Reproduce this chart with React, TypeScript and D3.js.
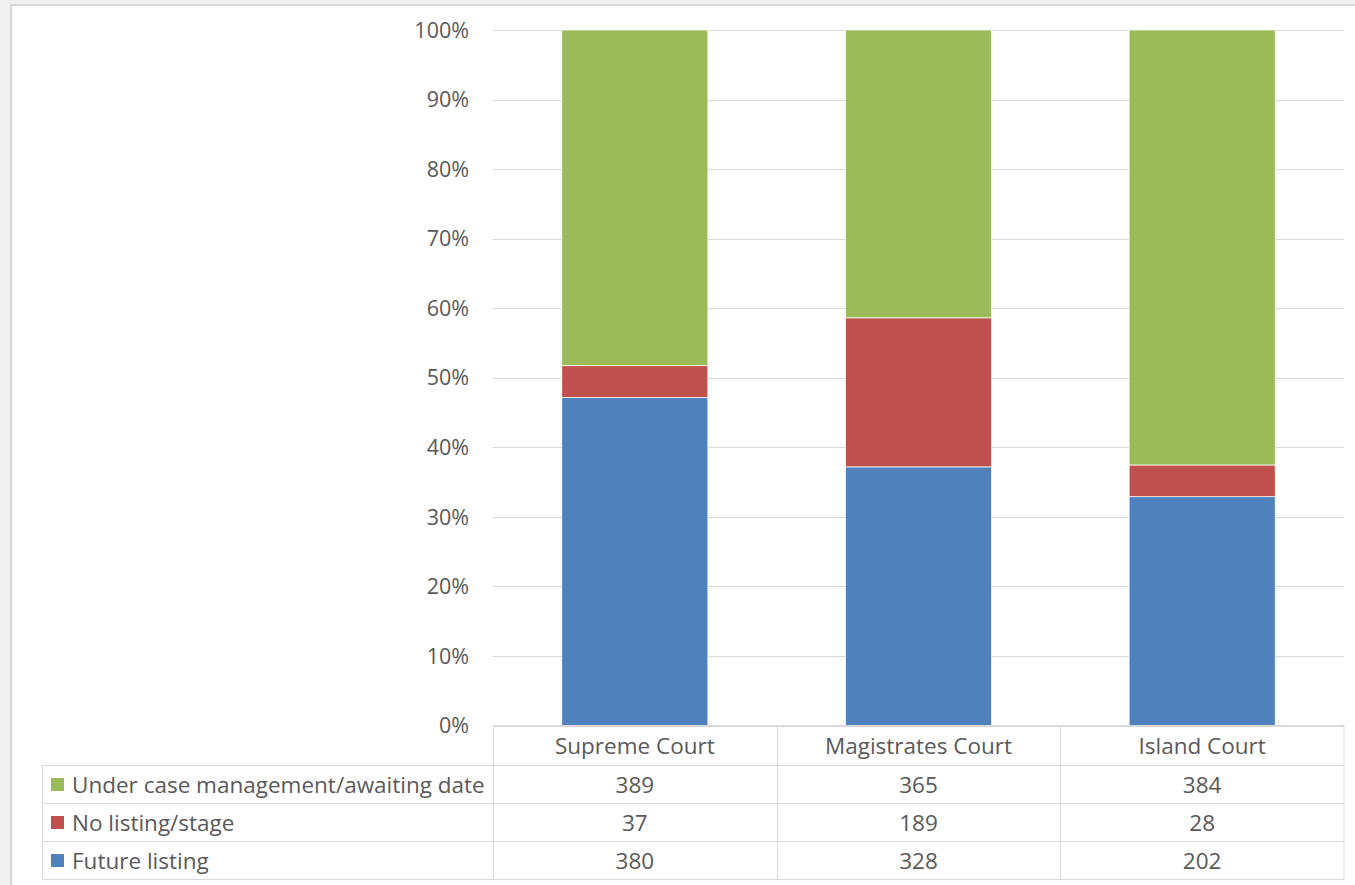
import React from "react";
import * as d3 from "d3";

const categories = ["Supreme Court", "Magistrates Court", "Island Court"];
const seriesNames = ["Future listing", "No listing/stage", "Under case management/awaiting date"];
const futureListing = [380, 328, 202];
const noListing = [37, 189, 28];
const underCaseMgmt = [389, 365, 384];
const seriesColors = ["#4F81BD", "#C0504D", "#9BBB59"];
const yTicks = [0, 0.1, 0.2, 0.3, 0.4, 0.5, 0.6, 0.7, 0.8, 0.9, 1.0];

const W = 1355;
const H = 885;
const FONT = "'Open Sans', sans-serif";
const FS = 21.5;
const FS_TABLE = 22.5;
const TXT = "#595959";
const GRID = "#d9d9d9";

export default function App() {
  const plotLeft = 493;
  const plotRight = 1344;
  const plotTop = 30;
  const plotBottom = 725.5;
  const tableTop = 725.5;
  const tableLeft = 42.5;
  const rowLines = [725.5, 765.5, 803.5, 841.5, 879.5];

  const x = d3.scaleBand().domain(categories).range([plotLeft, plotRight]).paddingInner(0.485).paddingOuter(0.2425);
  const y = d3.scaleLinear().domain([0, 1]).range([plotBottom, plotTop]);
  const fmt = d3.format(".0%");

  const rows = categories.map((c, i) => ({
    cat: c,
    s0: futureListing[i],
    s1: noListing[i],
    s2: underCaseMgmt[i],
  }));
  const stack = d3.stack<any>().keys(["s0", "s1", "s2"]).offset(d3.stackOffsetExpand);
  const stacked = stack(rows);

  const colBand = d3.scaleBand().domain(categories).range([plotLeft, plotRight]);

  const tableRows = [
    { name: seriesNames[2], color: seriesColors[2], values: underCaseMgmt },
    { name: seriesNames[1], color: seriesColors[1], values: noListing },
    { name: seriesNames[0], color: seriesColors[0], values: futureListing },
  ];

  const tableBottom = rowLines[4];

  return (
    <div style={{ position: "fixed", left: 0, top: 0, width: W, height: H }}>
      <svg width={W} height={H} style={{ display: "block" }}>
        <rect x={0} y={0} width={W} height={H} fill="#f0f0f0" />
        <rect x={11} y={5} width={W} height={H} fill="#ffffff" stroke="#d9d9d9" strokeWidth={2} />
        {yTicks.map((t) => (
          <line key={t} x1={plotLeft} x2={plotRight} y1={Math.round(y(t)) + 0.5} y2={Math.round(y(t)) + 0.5} stroke={GRID} strokeWidth={1} />
        ))}
        {yTicks.map((t) => (
          <text key={"l" + t} x={469} y={y(t)} dy="0.36em" textAnchor="end" fontFamily={FONT} fontSize={FS} fill={TXT}>
            {fmt(t)}
          </text>
        ))}
        {stacked.map((s, si) => (
          <g key={si} fill={seriesColors[si]}>
            {s.map((d, i) => (
              <rect
                key={i}
                x={x(categories[i])!}
                width={x.bandwidth()}
                y={y(d[1])}
                height={y(d[0]) - y(d[1])}
                stroke="#ffffff"
                strokeWidth={0.75}
              />
            ))}
          </g>
        ))}
        <g stroke={GRID} strokeWidth={1} fill="none">
          <line x1={plotLeft} x2={plotRight} y1={tableTop} y2={tableTop} />
          {rowLines.slice(1).map((ry) => (
            <line key={ry} x1={tableLeft} x2={plotRight} y1={ry} y2={ry} />
          ))}
          <line x1={tableLeft} x2={tableLeft} y1={rowLines[1]} y2={tableBottom} />
          {categories.map((c) => (
            <line key={c} x1={Math.round(colBand(c)!) + 0.5} x2={Math.round(colBand(c)!) + 0.5} y1={tableTop} y2={tableBottom} />
          ))}
          <line x1={plotRight} x2={plotRight} y1={tableTop} y2={tableBottom} />
        </g>
        {categories.map((c) => (
          <text key={"h" + c} x={colBand(c)! + colBand.bandwidth() / 2} y={(rowLines[0] + rowLines[1]) / 2} dy="0.36em" textAnchor="middle" fontFamily={FONT} fontSize={FS_TABLE} fill={TXT}>
            {c}
          </text>
        ))}
        {tableRows.map((r, ri) => {
          const cy = (rowLines[ri + 1] + rowLines[ri + 2]) / 2;
          return (
            <g key={r.name}>
              <rect x={51} y={cy - 6.5} width={13} height={13} fill={r.color} />
              <text x={72} y={cy} dy="0.36em" fontFamily={FONT} fontSize={FS_TABLE} fill={TXT}>
                {r.name}
              </text>
              {r.values.map((v, i) => (
                <text key={i} x={colBand(categories[i])! + colBand.bandwidth() / 2} y={cy} dy="0.36em" textAnchor="middle" fontFamily={FONT} fontSize={FS_TABLE} fill={TXT}>
                  {v}
                </text>
              ))}
            </g>
          );
        })}
      </svg>
    </div>
  );
}
